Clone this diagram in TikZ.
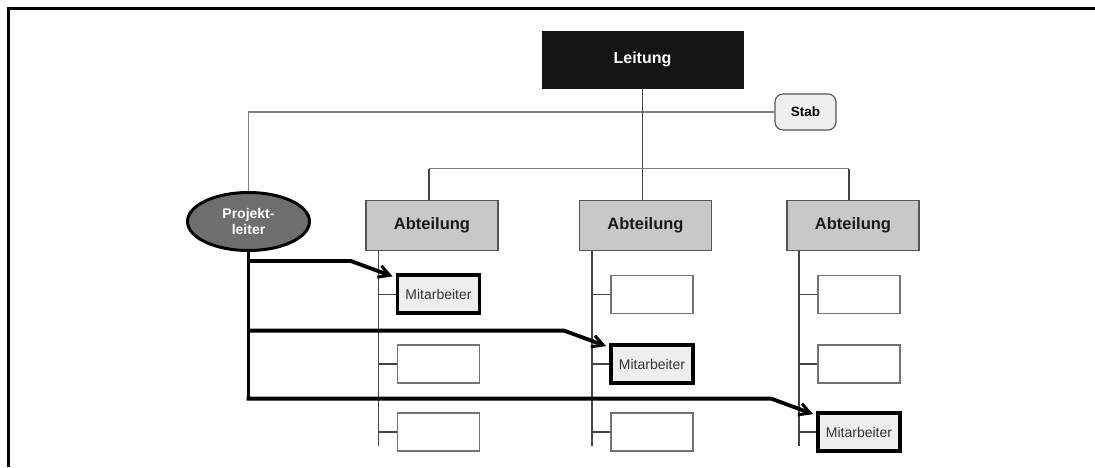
\documentclass[tikz,border=0pt]{standalone}
\usepackage{fontspec}
\setmainfont{Liberation Sans}
\usetikzlibrary{calc,shapes.geometric,arrows.meta}
\definecolor{leitfill}{HTML}{141414}
\definecolor{stabfill}{HTML}{F0F0F0}
\definecolor{abtfill}{HTML}{C8C8C8}
\definecolor{mafill}{HTML}{EEEEEE}
\definecolor{plfill}{HTML}{6E6E6E}
\definecolor{edgegray}{HTML}{555555}
\definecolor{linegray}{HTML}{444444}
\begin{document}
\begin{tikzpicture}[x=1pt,y=-1pt,
  leitbox/.style={draw=leitfill,fill=leitfill,text=white,minimum width=201,minimum height=57,inner sep=0,
    font=\bfseries\fontsize{16}{19}\selectfont},
  stabbox/.style={draw=edgegray,fill=stabfill,rounded corners=8,minimum width=61,minimum height=36,inner sep=0,
    line width=1.1,font=\bfseries\fontsize{13.5}{16}\selectfont},
  abtbox/.style={draw=edgegray,fill=abtfill,minimum width=132,minimum height=49.5,inner sep=0,line width=1.1,
    text=black!90,font=\bfseries\fontsize{16.5}{19}\selectfont},
  emptybox/.style={draw=black!55,fill=white,minimum width=82,minimum height=38,inner sep=0,line width=1.1},
  mabox/.style={draw=black,fill=mafill,minimum width=82,minimum height=38,inner sep=0,line width=3.8,
    text=black!80,font=\fontsize{14}{17}\selectfont},
  plnode/.style={ellipse,draw=black,fill=plfill,line width=3,minimum width=122,minimum height=58,inner sep=0,
    text=white,align=center,font=\bfseries\fontsize{14}{16}\selectfont},
  thin/.style={draw=linegray,line width=1.1},
  thinlight/.style={draw=black!50,line width=1.1},
  plline/.style={draw=black,line width=3.8},
  plarrow/.style={plline,-{Straight Barb[length=11,width=12,line width=3]}},
  frame/.style={draw=black,line width=3.5}]
\useasboundingbox (0,0) rectangle (1095,467);

% page frame
\draw[frame] (8.5,467) -- (8.5,8.5) -- (1095,8.5);

% head and staff
\node[leitbox] (leit) at (642.5,59.3) {Leitung};
\node[stabbox] (stab) at (805.5,112) {Stab};

% departments
\node[abtbox] (a1) at (432,225.5) {Abteilung};
\node[abtbox] (a2) at (645.5,225.5) {Abteilung};
\node[abtbox] (a3) at (853,225.5) {Abteilung};

% project lead
\node[plnode] (pl) at (248.5,221.5) {Projekt-\\leiter};

% staff line and line to the project lead
\draw[thinlight] (stab.west) -| (pl.north);

% head to departments
\coordinate (bl) at (429,168.5);
\coordinate (br) at (849,168.5);
\draw[thin] (leit.south) -- (leit.south |- a2.north);
\draw[thinlight] (bl) -- (br);
\draw[thin] (bl) -- (bl |- a1.north);
\draw[thin] (br) -- (br |- a3.north);

% column spines below each department
\coordinate (c1) at ($(a1.south west)+(13,0)$);
\coordinate (c2) at ($(a2.south west)+(13,0)$);
\coordinate (c3) at ($(a3.south west)+(12.5,0)$);
\foreach \c in {c1,c2,c3} \draw[thin] (\c) -- ++(0,195);

% staff member boxes
\node[mabox]    (m11) at (438.5,294.3) {Mitarbeiter};
\node[emptybox] (m12) at (438.5,364) {};
\node[emptybox] (m13) at (438.5,432) {};
\node[emptybox] (m21) at (652,294.3) {};
\node[mabox]    (m22) at (652,364) {Mitarbeiter};
\node[emptybox] (m23) at (652,432) {};
\node[emptybox] (m31) at (859,294.3) {};
\node[emptybox] (m32) at (859,364) {};
\node[mabox]    (m33) at (859,432) {Mitarbeiter};

\draw[thin] (m11.west) -- (m11.west -| c1);
\draw[thin] (m12.west) -- (m12.west -| c1);
\draw[thin] (m13.west) -- (m13.west -| c1);
\draw[thin] (m21.west) -- (m21.west -| c2);
\draw[thin] (m22.west) -- (m22.west -| c2);
\draw[thin] (m23.west) -- (m23.west -| c2);
\draw[thin] (m31.west) -- (m31.west -| c3);
\draw[thin] (m32.west) -- (m32.west -| c3);
\draw[thin] (m33.west) -- (m33.west -| c3);

% project lines from the project lead to the staff members
\coordinate (t1) at ($(m11.north west)+(-3,3)$);
\coordinate (t2) at ($(m22.north west)+(-3,3)$);
\coordinate (t3) at ($(m33.north west)+(-3,3)$);
\coordinate (k1) at ($(t1)+(-42,-15.5)$);
\coordinate (k2) at ($(t2)+(-42,-15.5)$);
\coordinate (k3) at ($(t3)+(-42,-15.5)$);
\draw[plline] (pl.south) -- (pl.south |- k3);
\draw[plarrow] (pl.south |- k1) -- (k1) -- (t1);
\draw[plarrow] (pl.south |- k2) -- (k2) -- (t2);
\draw[plarrow] ([xshift=-1.9]pl.south |- k3) -- (k3) -- (t3);
\end{tikzpicture}
\end{document}
